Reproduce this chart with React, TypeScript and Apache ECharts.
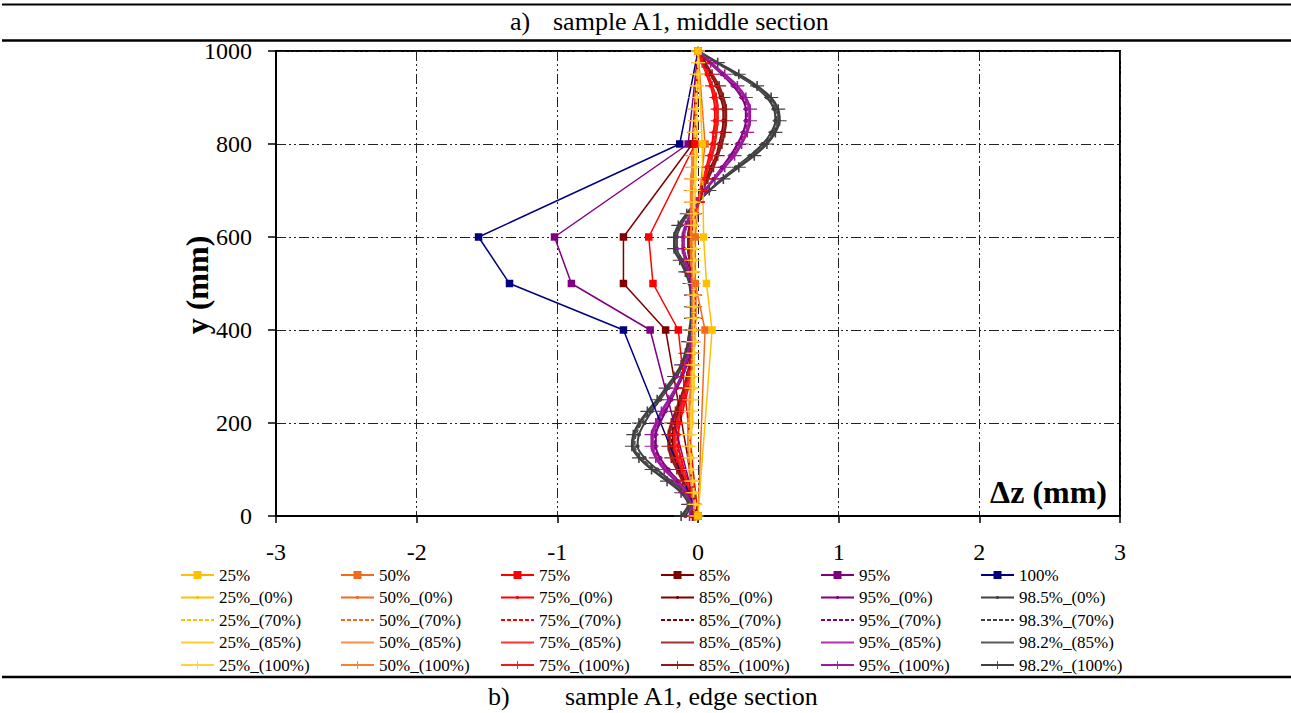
import React, { useEffect, useRef } from 'react';
import * as echarts from 'echarts';

// ---------- data ----------
const Y_DENSE = [0, 25, 50, 75, 100, 125, 150, 175, 200, 225, 250, 275, 300, 325, 350, 375, 400, 425, 450, 475, 500, 525, 550, 575, 600, 625, 650, 675, 700, 725, 750, 775, 800, 825, 850, 875, 900, 925, 950, 975, 1000];
const Y_MEAS = [0, 400, 500, 600, 800, 1000];

// measured deflections (square markers)
const M25 = [0, 0.10, 0.06, 0.04, 0.03, 0];
const M50 = [0, 0.05, -0.02, -0.02, 0.05, 0];
const M75 = [0, -0.14, -0.32, -0.35, -0.02, 0];
const M85 = [0, -0.23, -0.53, -0.53, -0.04, 0];
const M95 = [0, -0.34, -0.90, -1.02, -0.07, 0];
const M100 = [0, -0.53, -1.34, -1.56, -0.13, 0];

// computed profiles
const Y25_0 = [-0.01, -0.01, -0.02, -0.03, -0.04, -0.04, -0.05, -0.05, -0.04, -0.04, -0.04, -0.03, -0.03, -0.03, -0.03, -0.02, -0.02, -0.02, -0.02, -0.02, -0.02, -0.02, -0.02, -0.02, -0.02, -0.02, -0.02, -0.02, -0.02, -0.02, -0.02, -0.01, -0.01, -0.01, -0.01, -0.01, -0.01, 0.0, 0.0, 0.0, 0.0];
const Y25_70 = [-0.01, -0.02, -0.02, -0.03, -0.04, -0.05, -0.05, -0.05, -0.05, -0.04, -0.04, -0.04, -0.03, -0.03, -0.03, -0.03, -0.02, -0.02, -0.02, -0.02, -0.02, -0.03, -0.03, -0.03, -0.03, -0.03, -0.03, -0.02, -0.02, -0.02, -0.02, -0.02, -0.01, -0.01, -0.01, -0.01, -0.01, -0.01, 0.0, 0.0, 0.0];
const Y25_85 = [-0.01, -0.02, -0.03, -0.04, -0.05, -0.05, -0.06, -0.05, -0.05, -0.05, -0.04, -0.04, -0.03, -0.03, -0.03, -0.03, -0.03, -0.03, -0.03, -0.03, -0.03, -0.03, -0.03, -0.03, -0.03, -0.03, -0.03, -0.03, -0.02, -0.02, -0.02, -0.02, -0.02, -0.02, -0.01, -0.01, -0.01, -0.01, 0.0, 0.0, 0.0];
const Y25_100 = [-0.01, -0.02, -0.03, -0.04, -0.05, -0.05, -0.06, -0.06, -0.05, -0.05, -0.04, -0.04, -0.04, -0.03, -0.03, -0.03, -0.03, -0.03, -0.03, -0.03, -0.03, -0.03, -0.03, -0.03, -0.03, -0.03, -0.03, -0.03, -0.03, -0.02, -0.02, -0.02, -0.02, -0.02, -0.01, -0.01, -0.01, -0.01, 0.0, 0.0, 0.0];

const O50_0 = [-0.01, -0.02, -0.03, -0.04, -0.05, -0.05, -0.06, -0.06, -0.05, -0.05, -0.05, -0.04, -0.04, -0.04, -0.03, -0.03, -0.03, -0.03, -0.03, -0.03, -0.03, -0.04, -0.04, -0.04, -0.04, -0.04, -0.04, -0.04, -0.04, -0.03, -0.03, -0.03, -0.03, -0.02, -0.02, -0.02, -0.01, -0.01, -0.01, 0.0, 0.0];
const O50_70 = [-0.02, -0.02, -0.03, -0.04, -0.05, -0.06, -0.06, -0.06, -0.06, -0.05, -0.05, -0.05, -0.04, -0.04, -0.04, -0.03, -0.03, -0.03, -0.03, -0.04, -0.04, -0.04, -0.04, -0.04, -0.04, -0.04, -0.04, -0.04, -0.04, -0.04, -0.04, -0.03, -0.03, -0.03, -0.02, -0.02, -0.01, -0.01, -0.01, 0.0, 0.0];
const O50_85 = [-0.02, -0.03, -0.04, -0.05, -0.06, -0.06, -0.07, -0.07, -0.06, -0.06, -0.05, -0.05, -0.04, -0.04, -0.04, -0.04, -0.04, -0.04, -0.04, -0.04, -0.04, -0.04, -0.04, -0.05, -0.05, -0.05, -0.05, -0.05, -0.05, -0.04, -0.04, -0.04, -0.03, -0.03, -0.02, -0.02, -0.02, -0.01, -0.01, 0.0, 0.0];
const O50_100 = [-0.02, -0.03, -0.04, -0.05, -0.06, -0.07, -0.07, -0.07, -0.07, -0.06, -0.06, -0.05, -0.05, -0.04, -0.04, -0.04, -0.04, -0.04, -0.04, -0.04, -0.04, -0.04, -0.05, -0.05, -0.05, -0.05, -0.05, -0.05, -0.05, -0.05, -0.04, -0.04, -0.03, -0.03, -0.02, -0.02, -0.02, -0.01, -0.01, 0.0, 0.0];

const R75_0 = [-0.02, -0.02, -0.04, -0.07, -0.10, -0.12, -0.14, -0.14, -0.13, -0.11, -0.09, -0.07, -0.06, -0.04, -0.03, -0.03, -0.02, -0.02, -0.02, -0.02, -0.03, -0.03, -0.04, -0.04, -0.04, -0.03, -0.02, 0.0, 0.02, 0.04, 0.06, 0.08, 0.10, 0.11, 0.12, 0.12, 0.11, 0.09, 0.06, 0.03, 0.0];
const R75_70 = [-0.02, -0.02, -0.04, -0.08, -0.11, -0.13, -0.15, -0.15, -0.14, -0.12, -0.10, -0.08, -0.06, -0.05, -0.04, -0.03, -0.02, -0.02, -0.02, -0.02, -0.03, -0.03, -0.04, -0.05, -0.05, -0.04, -0.02, 0.0, 0.02, 0.04, 0.06, 0.09, 0.11, 0.12, 0.13, 0.13, 0.12, 0.09, 0.06, 0.03, 0.0];
const R75_85 = [-0.03, -0.02, -0.05, -0.08, -0.11, -0.14, -0.16, -0.16, -0.14, -0.12, -0.10, -0.08, -0.06, -0.05, -0.04, -0.03, -0.03, -0.02, -0.02, -0.02, -0.03, -0.04, -0.04, -0.05, -0.05, -0.04, -0.02, 0.0, 0.02, 0.04, 0.07, 0.09, 0.11, 0.13, 0.13, 0.13, 0.12, 0.10, 0.07, 0.03, 0.0];
const R75_100 = [-0.03, -0.02, -0.05, -0.09, -0.12, -0.15, -0.17, -0.17, -0.15, -0.13, -0.11, -0.09, -0.07, -0.05, -0.04, -0.03, -0.03, -0.02, -0.02, -0.02, -0.03, -0.04, -0.05, -0.05, -0.05, -0.04, -0.02, 0.0, 0.02, 0.05, 0.07, 0.10, 0.12, 0.13, 0.14, 0.14, 0.13, 0.10, 0.07, 0.03, 0.0];

const D85_0 = [-0.03, -0.02, -0.05, -0.09, -0.13, -0.16, -0.18, -0.18, -0.16, -0.14, -0.11, -0.09, -0.07, -0.05, -0.04, -0.03, -0.03, -0.03, -0.03, -0.03, -0.04, -0.04, -0.05, -0.06, -0.06, -0.05, -0.03, 0.0, 0.03, 0.06, 0.09, 0.13, 0.15, 0.17, 0.18, 0.18, 0.16, 0.13, 0.09, 0.04, 0.0];
const D85_70 = [-0.03, -0.03, -0.05, -0.10, -0.14, -0.17, -0.19, -0.19, -0.17, -0.15, -0.12, -0.09, -0.07, -0.06, -0.04, -0.04, -0.03, -0.03, -0.03, -0.03, -0.04, -0.05, -0.06, -0.06, -0.06, -0.05, -0.03, 0.0, 0.03, 0.06, 0.10, 0.13, 0.16, 0.18, 0.19, 0.18, 0.17, 0.14, 0.09, 0.05, 0.0];
const D85_85 = [-0.04, -0.03, -0.06, -0.10, -0.14, -0.18, -0.20, -0.20, -0.18, -0.15, -0.12, -0.10, -0.08, -0.06, -0.05, -0.04, -0.03, -0.03, -0.03, -0.03, -0.04, -0.05, -0.06, -0.07, -0.07, -0.05, -0.03, 0.0, 0.03, 0.07, 0.10, 0.14, 0.16, 0.18, 0.19, 0.19, 0.17, 0.14, 0.10, 0.05, 0.0];
const D85_100 = [-0.04, -0.03, -0.06, -0.11, -0.15, -0.19, -0.21, -0.21, -0.19, -0.16, -0.13, -0.10, -0.08, -0.06, -0.05, -0.04, -0.03, -0.03, -0.03, -0.03, -0.04, -0.05, -0.06, -0.07, -0.07, -0.06, -0.03, 0.0, 0.03, 0.07, 0.11, 0.14, 0.17, 0.19, 0.20, 0.20, 0.18, 0.15, 0.10, 0.05, 0.0];

const P95_0 = [-0.05, -0.03, -0.07, -0.14, -0.21, -0.27, -0.30, -0.30, -0.27, -0.23, -0.19, -0.15, -0.11, -0.08, -0.06, -0.05, -0.04, -0.03, -0.03, -0.04, -0.05, -0.06, -0.08, -0.10, -0.10, -0.08, -0.04, 0.0, 0.05, 0.11, 0.17, 0.23, 0.28, 0.32, 0.34, 0.34, 0.31, 0.25, 0.17, 0.08, 0.0];
const P95_70 = [-0.05, -0.04, -0.08, -0.15, -0.22, -0.28, -0.31, -0.31, -0.28, -0.24, -0.20, -0.15, -0.11, -0.08, -0.06, -0.05, -0.04, -0.04, -0.04, -0.04, -0.05, -0.06, -0.08, -0.10, -0.10, -0.08, -0.05, 0.0, 0.05, 0.11, 0.18, 0.24, 0.29, 0.33, 0.35, 0.35, 0.32, 0.26, 0.18, 0.09, 0.0];
const P95_85 = [-0.06, -0.04, -0.08, -0.15, -0.23, -0.29, -0.32, -0.32, -0.29, -0.25, -0.20, -0.16, -0.12, -0.09, -0.07, -0.05, -0.04, -0.04, -0.04, -0.04, -0.05, -0.07, -0.09, -0.10, -0.10, -0.08, -0.05, -0.01, 0.05, 0.11, 0.18, 0.25, 0.30, 0.34, 0.36, 0.36, 0.33, 0.27, 0.18, 0.09, 0.0];
const P95_100 = [-0.06, -0.04, -0.09, -0.16, -0.24, -0.30, -0.33, -0.33, -0.30, -0.26, -0.21, -0.16, -0.12, -0.09, -0.07, -0.05, -0.04, -0.04, -0.04, -0.04, -0.05, -0.07, -0.09, -0.11, -0.11, -0.09, -0.05, -0.01, 0.05, 0.12, 0.19, 0.26, 0.31, 0.35, 0.37, 0.37, 0.34, 0.28, 0.19, 0.09, 0.0];

const G_0 = [-0.09, -0.05, -0.09, -0.19, -0.29, -0.38, -0.43, -0.42, -0.38, -0.33, -0.27, -0.21, -0.15, -0.11, -0.08, -0.06, -0.05, -0.04, -0.04, -0.05, -0.06, -0.08, -0.11, -0.15, -0.15, -0.12, -0.07, 0.0, 0.08, 0.17, 0.27, 0.37, 0.46, 0.52, 0.55, 0.54, 0.49, 0.40, 0.27, 0.13, 0.0];
const G_70 = [-0.10, -0.06, -0.10, -0.20, -0.31, -0.40, -0.45, -0.44, -0.40, -0.34, -0.28, -0.22, -0.16, -0.11, -0.08, -0.06, -0.05, -0.05, -0.05, -0.05, -0.06, -0.08, -0.12, -0.15, -0.16, -0.13, -0.07, 0.0, 0.08, 0.17, 0.28, 0.38, 0.47, 0.53, 0.56, 0.55, 0.50, 0.41, 0.28, 0.13, 0.0];
const G_85 = [-0.11, -0.06, -0.11, -0.21, -0.32, -0.41, -0.46, -0.45, -0.41, -0.35, -0.28, -0.22, -0.16, -0.12, -0.09, -0.07, -0.06, -0.05, -0.05, -0.05, -0.06, -0.09, -0.12, -0.16, -0.16, -0.13, -0.08, -0.01, 0.08, 0.18, 0.28, 0.39, 0.48, 0.54, 0.57, 0.56, 0.51, 0.41, 0.28, 0.14, 0.0];
const G_100 = [-0.12, -0.07, -0.12, -0.22, -0.33, -0.42, -0.47, -0.46, -0.42, -0.36, -0.29, -0.23, -0.17, -0.12, -0.09, -0.07, -0.06, -0.05, -0.05, -0.05, -0.06, -0.09, -0.13, -0.17, -0.17, -0.14, -0.08, -0.01, 0.08, 0.18, 0.29, 0.40, 0.49, 0.55, 0.58, 0.57, 0.52, 0.42, 0.29, 0.14, 0.0];

const X_TICKS = [-3, -2, -1, 0, 1, 2, 3];
const Y_TICKS = [0, 200, 400, 600, 800, 1000];

const LEGEND_COLS = [
  ['25%', '25%_(0%)', '25%_(70%)', '25%_(85%)', '25%_(100%)'],
  ['50%', '50%_(0%)', '50%_(70%)', '50%_(85%)', '50%_(100%)'],
  ['75%', '75%_(0%)', '75%_(70%)', '75%_(85%)', '75%_(100%)'],
  ['85%', '85%_(0%)', '85%_(70%)', '85%_(85%)', '85%_(100%)'],
  ['95%', '95%_(0%)', '95%_(70%)', '95%_(85%)', '95%_(100%)'],
  ['100%', '98.5%_(0%)', '98.3%_(70%)', '98.2%_(85%)', '98.2%_(100%)'],
];

// ---------- styling ----------
const SERIF = "'Liberation Serif', 'Times New Roman', serif";
const SYM_PLUS = 'path://M0,4L4,4L4,0L5,0L5,4L9,4L9,5L5,5L5,9L4,9L4,5L0,5Z';
const SYM_DOT = 'path://M0,0M10,10M4.2,3.2L5.8,3.2L6.8,4.2L6.8,5.8L5.8,6.8L4.2,6.8L3.2,5.8L3.2,4.2Z';
const SYM_NONE = 'path://M0,0M10,10M5,5L5.01,5L5.01,5.01Z';

type Kind = 'meas' | 'p0' | 'p70' | 'p85' | 'p100';

function makeSeries(name: string, color: string, kind: Kind, xs: number[], ys: number[]) {
  const base: any = {
    name,
    type: 'line',
    data: xs.map((x, i) => [x, ys[i]]),
    color,
    itemStyle: { color, borderWidth: 0 },
    emphasis: { disabled: true },
  };
  if (kind === 'meas') {
    return { ...base, symbol: 'rect', symbolSize: 7.5, lineStyle: { color, width: 1.5 } };
  }
  if (kind === 'p0') {
    return { ...base, smooth: 0.3, symbol: SYM_DOT, symbolSize: 11, lineStyle: { color, width: 2 } };
  }
  if (kind === 'p70') {
    return { ...base, smooth: 0.3, symbol: SYM_NONE, showSymbol: false, lineStyle: { color, width: 1.5, type: [4, 2] } };
  }
  if (kind === 'p85') {
    return { ...base, smooth: 0.3, symbol: SYM_NONE, showSymbol: false, lineStyle: { color, width: 2.2 } };
  }
  return { ...base, smooth: 0.3, symbol: SYM_PLUS, symbolSize: [14, 10], lineStyle: { color, width: 2.2 } };
}

export default function App() {
  const ref = useRef<HTMLDivElement>(null);
  useEffect(() => {
    if (!ref.current) return;
    const chart = echarts.init(ref.current, undefined, { renderer: 'svg' });

    const dense = [
      makeSeries('98.5%_(0%)', '#404040', 'p0', G_0, Y_DENSE),
      makeSeries('98.3%_(70%)', '#404040', 'p70', G_70, Y_DENSE),
      makeSeries('98.2%_(85%)', '#5A5A5A', 'p85', G_85, Y_DENSE),
      makeSeries('98.2%_(100%)', '#404040', 'p100', G_100, Y_DENSE),
      makeSeries('95%_(0%)', '#800080', 'p0', P95_0, Y_DENSE),
      makeSeries('95%_(70%)', '#800080', 'p70', P95_70, Y_DENSE),
      makeSeries('95%_(85%)', '#B030B0', 'p85', P95_85, Y_DENSE),
      makeSeries('95%_(100%)', '#9A1A9A', 'p100', P95_100, Y_DENSE),
      makeSeries('85%_(0%)', '#800000', 'p0', D85_0, Y_DENSE),
      makeSeries('85%_(70%)', '#800000', 'p70', D85_70, Y_DENSE),
      makeSeries('85%_(85%)', '#A33030', 'p85', D85_85, Y_DENSE),
      makeSeries('85%_(100%)', '#8F1A1A', 'p100', D85_100, Y_DENSE),
      makeSeries('75%_(0%)', '#FF0000', 'p0', R75_0, Y_DENSE),
      makeSeries('75%_(70%)', '#FF0000', 'p70', R75_70, Y_DENSE),
      makeSeries('75%_(85%)', '#FF3333', 'p85', R75_85, Y_DENSE),
      makeSeries('75%_(100%)', '#F21818', 'p100', R75_100, Y_DENSE),
      makeSeries('50%_(0%)', '#F26B1D', 'p0', O50_0, Y_DENSE),
      makeSeries('50%_(70%)', '#F26B1D', 'p70', O50_70, Y_DENSE),
      makeSeries('50%_(85%)', '#F6914A', 'p85', O50_85, Y_DENSE),
      makeSeries('50%_(100%)', '#F58231', 'p100', O50_100, Y_DENSE),
      makeSeries('25%_(0%)', '#FFC000', 'p0', Y25_0, Y_DENSE),
      makeSeries('25%_(70%)', '#FFC000', 'p70', Y25_70, Y_DENSE),
      makeSeries('25%_(85%)', '#FFCC33', 'p85', Y25_85, Y_DENSE),
      makeSeries('25%_(100%)', '#FFD23F', 'p100', Y25_100, Y_DENSE),
    ];
    const meas = [
      makeSeries('100%', '#000080', 'meas', M100, Y_MEAS),
      makeSeries('95%', '#800080', 'meas', M95, Y_MEAS),
      makeSeries('85%', '#800000', 'meas', M85, Y_MEAS),
      makeSeries('75%', '#FF0000', 'meas', M75, Y_MEAS),
      makeSeries('50%', '#F26B1D', 'meas', M50, Y_MEAS),
      makeSeries('25%', '#FFC000', 'meas', M25, Y_MEAS),
    ];

    const gridLine = { show: true, lineStyle: { color: '#222', width: 1, type: [10, 3, 2, 3, 2, 3] } };

    chart.setOption({
      animation: false,
      backgroundColor: '#fff',
      grid: { left: 276, right: 171, top: 51, bottom: 197, show: true, borderColor: '#000', borderWidth: 2, containLabel: false },
      xAxis: {
        type: 'value',
        min: X_TICKS[0],
        max: X_TICKS[X_TICKS.length - 1],
        interval: 1,
        axisLine: { show: true, onZero: false, lineStyle: { color: '#000', width: 2 } },
        axisTick: { show: true, length: 7, lineStyle: { color: '#000', width: 1.5 } },
        axisLabel: { margin: 24, fontFamily: SERIF, fontSize: 24, color: '#000', formatter: (v: number) => String(v) },
        splitLine: gridLine,
      },
      yAxis: {
        type: 'value',
        min: Y_TICKS[0],
        max: Y_TICKS[Y_TICKS.length - 1],
        interval: 200,
        axisLine: { show: true, onZero: false, lineStyle: { color: '#000', width: 2 } },
        axisTick: { show: true, length: 8, lineStyle: { color: '#000', width: 1.5 } },
        axisLabel: { margin: 24, fontFamily: SERIF, fontSize: 24, color: '#000', formatter: (v: number) => String(v) },
        splitLine: gridLine,
      },
      legend: LEGEND_COLS.map((names, i) => ({
        orient: 'vertical',
        left: 180 + 160 * i,
        top: 566,
        itemWidth: 33,
        itemHeight: 10,
        itemGap: 4.5,
        padding: 0,
        selectedMode: false,
        data: names,
        textStyle: { fontFamily: SERIF, fontSize: 17, color: '#000', lineHeight: 18 },
      })),
      graphic: [
        { type: 'line', shape: { x1: 2, y1: 4.5, x2: 1291, y2: 4.5 }, style: { stroke: '#000', lineWidth: 2 } },
        { type: 'line', shape: { x1: 2, y1: 40.5, x2: 1291, y2: 40.5 }, style: { stroke: '#000', lineWidth: 2.5 } },
        { type: 'line', shape: { x1: 2, y1: 677, x2: 1291, y2: 677 }, style: { stroke: '#000', lineWidth: 2.5 } },
        { type: 'text', left: 510, top: 8, style: { text: 'a)', font: `26px ${SERIF}`, fill: '#000' } },
        { type: 'text', left: 553, top: 8, style: { text: 'sample A1, middle section', font: `26px ${SERIF}`, fill: '#000' } },
        { type: 'text', left: 488, top: 683, style: { text: 'b)', font: `26px ${SERIF}`, fill: '#000' } },
        { type: 'text', left: 565, top: 683, style: { text: 'sample A1, edge section', font: `26px ${SERIF}`, fill: '#000' } },
        {
          type: 'text', x: 197, y: 285, rotation: Math.PI / 2,
          style: { text: 'y (mm)', font: `bold 32px ${SERIF}`, fill: '#000', textAlign: 'center', textVerticalAlign: 'middle' },
        },
        {
          type: 'text', x: 1107, y: 492, z: 100,
          style: { text: 'Δz (mm)', font: `bold 32px ${SERIF}`, fill: '#000', textAlign: 'right', textVerticalAlign: 'middle' },
        },
      ],
      series: [...dense, ...meas],
    });
    return () => chart.dispose();
  }, []);
  return <div ref={ref} style={{ position: 'fixed', left: 0, top: 0, width: 1291, height: 713, background: '#fff' }} />;
}
